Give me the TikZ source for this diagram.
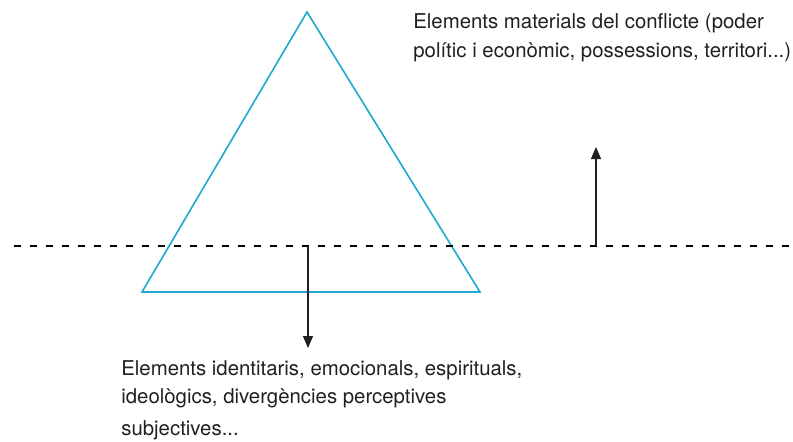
\documentclass[tikz,border=0pt]{standalone}
\usepackage{fontspec}
\setmainfont{TeX Gyre Heros}
\usepackage{tikz}
\usetikzlibrary{arrows.meta}
\usetikzlibrary{positioning}
\definecolor{trianglecol}{RGB}{30,168,206}
\definecolor{textcol}{RGB}{35,31,32}
\tikzstyle{tri}=[draw=trianglecol,line width=0.9pt,line join=miter]
\tikzstyle{level}=[draw,dash pattern=on 0.14cm off 0.18cm,line width=0.7pt]
\tikzstyle{push}=[draw=textcol,line width=0.6pt,-{Triangle[length=2.4mm,width=2mm]}]
\tikzstyle{txt}=[font=\fontsize{11.6}{16}\selectfont,text=textcol,align=left,inner sep=0pt,anchor=base west]

\begin{document}
\begin{tikzpicture}[x=0.02cm,y=-0.02cm]
		\useasboundingbox (0,0) rectangle (793,441);
		\coordinate (apex) at (307,12);
		\coordinate (bl) at (142,292);
		\coordinate (br) at (480,292);
		\coordinate (lineL) at (14,246);
		\coordinate (lineR) at (793,246);
		\coordinate (upFoot) at (596,246);
		\coordinate (upTip) at (596,147);
		\coordinate (downFoot) at (308,246);
		\coordinate (downTip) at (308,348);
%
		\draw[tri] (apex) -- (br) -- (bl) -- cycle;
		\draw[level] (lineL) -- (lineR);
		\draw[push] (upFoot) -- (upTip);
		\draw[push] (downFoot) -- (downTip);
%
		% base anchor sits on the last line
		\node[txt] (material) at (413,57) {Elements materials del conflicte (poder\\
		polític i econòmic, possessions, territori...)};
		\node[txt] (identity) at (121,435) {Elements identitaris, emocionals, espirituals,\\
		ideològics, divergències perceptives\\[2pt]
		subjectives...};
\end{tikzpicture}
\end{document}
